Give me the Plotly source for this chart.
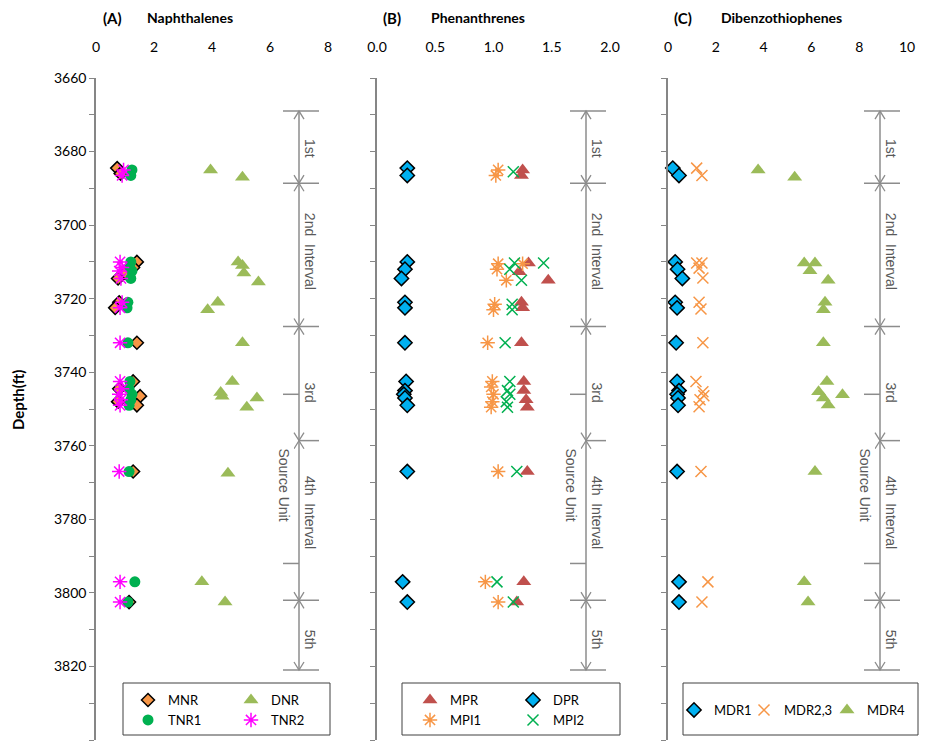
import plotly.graph_objects as go

W, H = 931, 747

# ---------------- data ----------------
# Panel A: Naphthalenes
MNR_depth = [3684.5, 3686, 3710, 3711.5, 3713, 3714.5, 3721, 3722.5, 3732, 3742.5, 3744.5, 3746.5, 3748, 3749, 3767, 3802.5]
MNR_val = [0.73, 0.85, 1.41, 1.28, 1.0, 0.76, 0.8, 0.66, 1.41, 1.28, 0.8, 1.52, 0.76, 1.41, 1.28, 1.14]
DNR_depth = [3685, 3687, 3710, 3711, 3713, 3715.5, 3721, 3723, 3732, 3742.5, 3745.5, 3746.5, 3747, 3749.5, 3767.5, 3797, 3802.5]
DNR_val = [3.95, 5.05, 4.9, 5.05, 5.1, 5.6, 4.2, 3.85, 5.05, 4.7, 4.3, 4.35, 5.55, 5.2, 4.55, 3.65, 4.45]
TNR1_depth = [3685, 3686.5, 3710, 3711.5, 3712.5, 3714.5, 3721, 3722.5, 3732, 3742.5, 3744.5, 3746, 3747.5, 3749, 3767, 3797, 3802.5]
TNR1_val = [1.24, 1.2, 1.2, 1.17, 1.24, 1.2, 1.1, 1.07, 1.1, 1.17, 1.14, 1.24, 1.2, 1.14, 1.14, 1.34, 1.1]
TNR2_depth = [3685, 3686.5, 3710, 3711.5, 3712.5, 3714.5, 3721, 3722.5, 3732, 3742.5, 3744.5, 3746, 3747.5, 3749, 3767, 3797, 3802.5]
TNR2_val = [0.95, 0.9, 0.83, 0.9, 0.8, 0.86, 0.9, 0.83, 0.83, 0.83, 0.9, 0.8, 0.86, 0.83, 0.8, 0.83, 0.83]

# Panel B: Phenanthrenes
MPR_depth = [3685, 3686.5, 3710.3, 3712.7, 3715, 3721, 3722.5, 3732, 3742.5, 3745, 3747.5, 3749.5, 3767, 3797, 3802.5]
MPR_val = [1.25, 1.24, 1.3, 1.22, 1.47, 1.24, 1.25, 1.24, 1.26, 1.26, 1.28, 1.29, 1.29, 1.26, 1.2]
DPR_depth = [3684.5, 3686.5, 3710, 3712, 3714.5, 3721, 3722.5, 3732, 3742.5, 3745, 3746, 3747, 3749, 3767, 3797, 3802.5]
DPR_val = [0.26, 0.26, 0.26, 0.24, 0.21, 0.24, 0.24, 0.24, 0.25, 0.24, 0.23, 0.24, 0.26, 0.26, 0.22, 0.26]
MPI1_depth = [3685, 3686.5, 3710.5, 3710.5, 3712, 3715, 3721.5, 3723, 3732, 3742.5, 3744, 3746, 3748, 3749.5, 3767, 3797, 3802.5]
MPI1_val = [1.04, 1.02, 1.04, 1.25, 1.03, 1.11, 1.01, 1.0, 0.95, 0.99, 0.98, 1.0, 0.99, 0.98, 1.04, 0.93, 1.04]
MPI2_depth = [3685.5, 3710.3, 3710.3, 3712, 3715, 3721.5, 3723, 3732, 3742.5, 3745, 3746, 3748, 3749.5, 3767, 3797, 3802.5]
MPI2_val = [1.17, 1.18, 1.43, 1.14, 1.24, 1.16, 1.16, 1.1, 1.14, 1.12, 1.14, 1.11, 1.12, 1.2, 1.03, 1.17]

# Panel C: Dibenzothiophenes
MDR1_depth = [3684.5, 3686.5, 3710, 3712, 3714.5, 3721, 3722.5, 3732, 3742.5, 3745, 3746, 3747, 3749, 3767, 3797, 3802.5]
MDR1_val = [0.2, 0.46, 0.3, 0.4, 0.6, 0.3, 0.38, 0.34, 0.38, 0.46, 0.38, 0.42, 0.42, 0.38, 0.46, 0.46]
MDR23_depth = [3684.5, 3686.5, 3710.3, 3710.3, 3711.7, 3714.4, 3721, 3722.8, 3732, 3742.5, 3745.3, 3746.4, 3747.5, 3749.4, 3767, 3797, 3802.5]
MDR23_val = [1.2, 1.42, 1.2, 1.42, 1.3, 1.46, 1.3, 1.38, 1.46, 1.17, 1.46, 1.5, 1.34, 1.3, 1.38, 1.67, 1.42]
MDR4_depth = [3685, 3687, 3710.3, 3710.3, 3712.4, 3715, 3721, 3723, 3732, 3742.5, 3745.3, 3746.1, 3747, 3748.9, 3767, 3797, 3802.5]
MDR4_val = [3.77, 5.3, 5.7, 6.15, 5.94, 6.7, 6.57, 6.5, 6.5, 6.65, 6.3, 7.3, 6.5, 6.7, 6.15, 5.7, 5.86]

# Interval annotations
INTERVAL_BOUNDS = [3669, 3688.6, 3727.6, 3758.6, 3802, 3821]
INTERVAL_LABELS = ["1st", "2nd  Interval", "3rd", "4th  Interval", "5th"]
INTERVAL_LABEL_DEPTH = [3679, 3707, 3745.5, 3778, 3812.5]
SOURCE_UNIT = [3746, 3792]
SOURCE_LABEL_DEPTH = 3770.5

X_TITLES = [("(A)", "Naphthalenes"), ("(B)", "Phenanthrenes"), ("(C)", "Dibenzothiophenes")]

# ---------------- layout helpers ----------------
def px(x):
    return x / W

def py(y):
    return 1 - y / H

FONT = "Lato, Liberation Sans, Arial"
GRAY = "#8C8C8C"
AX = "#868686"

fig = go.Figure()

def add(x, y, name, xa, ya, legend, symbol, color, size, line_color=None, line_width=0, open_sym=False):
    if open_sym:
        marker = dict(symbol=symbol, size=size, color=color, line=dict(color=color, width=1.5))
    else:
        marker = dict(symbol=symbol, size=size, color=color,
                      line=dict(color=line_color or color, width=line_width))
    fig.add_trace(go.Scatter(x=x, y=y, mode="markers", name=name, xaxis=xa, yaxis=ya,
                             legend=legend, marker=marker, cliponaxis=False, showlegend=True))

ORANGE = "#F79646"
OLIVE = "#9BBB59"
GREEN = "#00B050"
MAGENTA = "#FF00FF"
RED = "#C0504D"
BLUE = "#00B0F0"

add(MNR_val, MNR_depth, "MNR", "x", "y", "legend", "diamond", ORANGE, 10, "black", 1.5)
add(DNR_val, DNR_depth, "DNR", "x", "y", "legend2", "triangle-up", OLIVE, 13)
add(TNR1_val, TNR1_depth, "TNR1", "x", "y", "legend3", "circle", GREEN, 11)
add(TNR2_val, TNR2_depth, "TNR2", "x", "y", "legend4", "asterisk-open", MAGENTA, 12, open_sym=True)

add(MPR_val, MPR_depth, "MPR", "x2", "y2", "legend5", "triangle-up", RED, 13)
add(DPR_val, DPR_depth, "DPR", "x2", "y2", "legend6", "diamond", BLUE, 11, "black", 1.5)
add(MPI1_val, MPI1_depth, "MPI1", "x2", "y2", "legend7", "asterisk-open", ORANGE, 12, open_sym=True)
add(MPI2_val, MPI2_depth, "MPI2", "x2", "y2", "legend8", "x-thin-open", GREEN, 11, open_sym=True)

add(MDR1_val, MDR1_depth, "MDR1", "x3", "y3", "legend9", "diamond", BLUE, 11, "black", 1.5)
add(MDR23_val, MDR23_depth, "MDR2,3", "x3", "y3", "legend10", "x-thin-open", ORANGE, 11, open_sym=True)
add(MDR4_val, MDR4_depth, "MDR4", "x3", "y3", "legend11", "triangle-up", OLIVE, 13)

# axes
ydom = [py(740), py(78)]
xdoms = [[px(96), px(328)], [px(377), px(610)], [px(668), px(907)]]
xranges = [[0, 8], [0, 2], [0, 10]]
xdticks = [2, 0.5, 2]
xfmts = ["", ".1f", ""]

layout = dict(width=W, height=H, margin=dict(l=0, r=0, t=0, b=0, autoexpand=False),
              plot_bgcolor="white", paper_bgcolor="white", showlegend=True,
              font=dict(family=FONT, size=14, color="black"))
for i in range(3):
    sx = "" if i == 0 else str(i + 1)
    layout["xaxis" + sx] = dict(domain=xdoms[i], range=xranges[i], dtick=xdticks[i], tickformat=xfmts[i],
                                side="top", anchor="y" + sx, showgrid=False, zeroline=False, automargin=False,
                                showline=False, ticks="", ticklabelstandoff=22,
                                tickfont=dict(family=FONT, size=14, color="black"))
    layout["yaxis" + sx] = dict(domain=ydom, range=[3840, 3660], dtick=20, anchor="x" + sx, automargin=False,
                                showgrid=False, zeroline=False, showline=True, linecolor=AX, linewidth=1.5,
                                ticks="outside", ticklen=5, tickcolor=AX, tickwidth=1,
                                minor=dict(dtick=10, ticks="outside", ticklen=5, tickcolor=AX),
                                showticklabels=(i == 0),
                                tickfont=dict(family=FONT, size=14, color="black"))
fig.update_layout(**layout)

# one legend per series, placed at the reference's legend key positions
LEGEND_KEYS = [(150, 700), (253, 700), (150, 720), (253, 720),
               (432, 700), (535, 700), (432, 720), (535, 720),
               (696, 710), (766, 710), (849, 710)]

def leg(xpix, ypix):
    return dict(x=px(xpix - 22), y=py(ypix), xanchor="left", yanchor="middle", orientation="h",
                bgcolor="rgba(0,0,0,0)", borderwidth=0, itemwidth=30, visible=True,
                font=dict(family=FONT, size=13, color="black"), tracegroupgap=0)

legs = {}
for k, (lx, ly) in enumerate(LEGEND_KEYS):
    legs["legend" if k == 0 else f"legend{k + 1}"] = leg(lx, ly)
fig.update_layout(**legs)

shapes = []
annotations = []
# legend boxes
for (x0, x1) in [(123, 330), (402, 620), (683, 918)]:
    shapes.append(dict(type="rect", xref="paper", yref="paper", x0=px(x0), x1=px(x1), y0=py(735), y1=py(683),
                       line=dict(color="#404040", width=1), fillcolor="white", layer="above"))

# interval annotations per panel
line_x = [299, 586, 880]
ah_w = 5 / W  # arrowhead half width (paper)
ah_h = 2.2     # arrowhead height (ft)
for i, lx in enumerate(line_x):
    yref = "y" if i == 0 else "y" + str(i + 1)
    x = px(lx)
    shapes.append(dict(type="line", xref="paper", yref=yref, x0=x, x1=x,
                       y0=INTERVAL_BOUNDS[0], y1=INTERVAL_BOUNDS[-1], line=dict(color=GRAY, width=1.5)))
    for b in INTERVAL_BOUNDS:
        if b == INTERVAL_BOUNDS[3]:
            x0, x1 = x, px(lx + 20)
        else:
            x0, x1 = px(lx - 16), px(lx + 20)
        shapes.append(dict(type="line", xref="paper", yref=yref, x0=x0, x1=x1, y0=b, y1=b,
                           line=dict(color=GRAY, width=1.5)))
    for a, b in zip(INTERVAL_BOUNDS[:-1], INTERVAL_BOUNDS[1:]):
        shapes.append(dict(type="path", xref="paper", yref=yref,
                           path=f"M {x - ah_w} {a + ah_h} L {x} {a} L {x + ah_w} {a + ah_h}",
                           line=dict(color=GRAY, width=1.3)))
        shapes.append(dict(type="path", xref="paper", yref=yref,
                           path=f"M {x - ah_w} {b - ah_h} L {x} {b} L {x + ah_w} {b - ah_h}",
                           line=dict(color=GRAY, width=1.3)))
    for s in SOURCE_UNIT:
        shapes.append(dict(type="line", xref="paper", yref=yref, x0=px(lx - 16), x1=x, y0=s, y1=s,
                           line=dict(color=GRAY, width=1.5)))
    for lab, d in zip(INTERVAL_LABELS, INTERVAL_LABEL_DEPTH):
        annotations.append(dict(text=lab, xref="paper", yref=yref, x=px(lx + 11), y=d, showarrow=False,
                                xanchor="center", yanchor="middle", textangle=90,
                                font=dict(family="Liberation Sans, Arial", size=14, color="#595959")))
    annotations.append(dict(text="Source Unit", xref="paper", yref=yref, x=px(lx - 15), y=SOURCE_LABEL_DEPTH,
                            showarrow=False, textangle=90, bgcolor="white", xanchor="center", yanchor="middle",
                            font=dict(family="Liberation Sans, Arial", size=14, color="#595959")))

# panel titles
title_pos = [(112, 190), (392, 478), (683, 781)]
for (lab, name), (xa, xb) in zip(X_TITLES, title_pos):
    annotations.append(dict(text=f"<b>{lab}</b>", xref="paper", yref="paper", x=px(xa), y=py(18),
                            xanchor="center", yanchor="middle",
                            showarrow=False, font=dict(family=FONT, size=15, color="black")))
    annotations.append(dict(text=f"<b>{name}</b>", xref="paper", yref="paper", x=px(xb), y=py(18),
                            xanchor="center", yanchor="middle",
                            showarrow=False, font=dict(family=FONT, size=14, color="black")))

annotations.append(dict(text="<b>Depth(ft)</b>", xref="paper", yref="paper", x=px(18), y=py(400),
                        xanchor="center", yanchor="middle",
                        showarrow=False, textangle=-90, font=dict(family=FONT, size=15, color="black")))

fig.update_layout(shapes=shapes, annotations=annotations)
fig.write_html("out.html")
